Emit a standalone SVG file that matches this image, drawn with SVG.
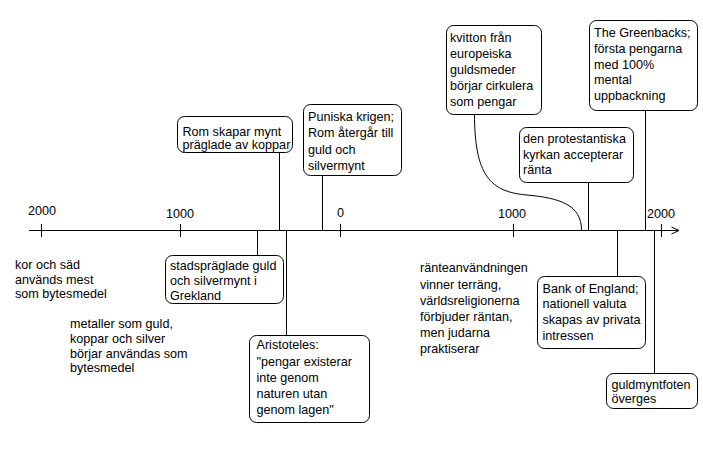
<svg xmlns="http://www.w3.org/2000/svg" width="703" height="457" viewBox="0 0 703 457">
<style>
text{font-family:"Liberation Sans",Arial,sans-serif;font-size:12.6px;fill:#000}
.box{fill:#fff;stroke:#000;stroke-width:1}
.ln{fill:none;stroke:#000;stroke-width:1}
</style>
<rect width="703" height="457" fill="#fff"/>
<g id="axis">
<line class="ln" x1="29" y1="230.5" x2="679" y2="230.5"/>
<polyline class="ln" points="671.5,227 679,230.5 671.5,234"/>
<line class="ln" x1="41.5" y1="224" x2="41.5" y2="237"/>
<line class="ln" x1="180.5" y1="224" x2="180.5" y2="237"/>
<line class="ln" x1="340.5" y1="224" x2="340.5" y2="237"/>
<line class="ln" x1="513.5" y1="224" x2="513.5" y2="237"/>
<line class="ln" x1="661.5" y1="224" x2="661.5" y2="237"/>
<text x="28" y="215">2000</text>
<text x="166" y="217.5">1000</text>
<text x="337" y="217">0</text>
<text x="498" y="217.5">1000</text>
<text x="647" y="217.5">2000</text>
</g>
<g id="connectors">
<line class="ln" x1="279.5" y1="152" x2="279.5" y2="230"/>
<line class="ln" x1="322.5" y1="175" x2="322.5" y2="230"/>
<line class="ln" x1="257.5" y1="231" x2="257.5" y2="255"/>
<line class="ln" x1="286.5" y1="231" x2="286.5" y2="335"/>
<line class="ln" x1="588.5" y1="182" x2="588.5" y2="230"/>
<line class="ln" x1="645.5" y1="110" x2="645.5" y2="230"/>
<line class="ln" x1="617.5" y1="231" x2="617.5" y2="276"/>
<line class="ln" x1="654.5" y1="231" x2="654.5" y2="373"/>
<path class="ln" d="M474.5,114 C474.5,175 490,192 527,195 C560,198 581.5,205 581.5,230"/>
</g>
<g id="n-kor">
<text x="15" y="268.5">kor och säd</text>
<text x="15" y="283.5">används mest</text>
<text x="15" y="298">som bytesmedel</text>
</g>
<g id="n-metaller">
<text x="70" y="328">metaller som guld,</text>
<text x="70" y="343">koppar och silver</text>
<text x="70" y="357.5">börjar användas som</text>
<text x="70" y="372">bytesmedel</text>
</g>
<g id="n-rom">
<rect class="box" x="177.5" y="116.5" width="115" height="36" rx="7"/>
<text x="182.5" y="135.5">Rom skapar mynt</text>
<text x="182.5" y="149">präglade av koppar</text>
</g>
<g id="n-puniska">
<rect class="box" x="303.5" y="104.5" width="98" height="71" rx="7"/>
<text x="308" y="120.5">Puniska krigen;</text>
<text x="308" y="137">Rom återgår till</text>
<text x="308" y="153.5">guld och</text>
<text x="308" y="170">silvermynt</text>
</g>
<g id="n-stads">
<rect class="box" x="165.5" y="255.5" width="118" height="48" rx="7"/>
<text x="170" y="270">stadspräglade guld</text>
<text x="170" y="285">och silvermynt i</text>
<text x="170" y="300">Grekland</text>
</g>
<g id="n-aristoteles">
<rect class="box" x="249.5" y="335.5" width="120" height="87" rx="7"/>
<text x="256.5" y="349">Aristoteles:</text>
<text x="256.5" y="365.5">"pengar existerar</text>
<text x="256.5" y="381.5">inte genom</text>
<text x="256.5" y="397.5">naturen utan</text>
<text x="256.5" y="413.5">genom lagen"</text>
</g>
<g id="n-ranta">
<text x="420" y="272">ränteanvändningen</text>
<text x="420" y="289">vinner terräng,</text>
<text x="420" y="305">världsreligionerna</text>
<text x="420" y="321">förbjuder räntan,</text>
<text x="420" y="337">men judarna</text>
<text x="420" y="353">praktiserar</text>
</g>
<g id="n-kvitton">
<rect class="box" x="446.5" y="25.5" width="95" height="89" rx="7"/>
<text x="450" y="41.5">kvitton från</text>
<text x="450" y="57.5">europeiska</text>
<text x="450" y="74">guldsmeder</text>
<text x="450" y="90">börjar cirkulera</text>
<text x="450" y="105.5">som pengar</text>
</g>
<g id="n-protestant">
<rect class="box" x="519.5" y="127.5" width="114" height="55" rx="7"/>
<text x="523" y="142.5">den protestantiska</text>
<text x="523" y="158.5">kyrkan accepterar</text>
<text x="523" y="173.5">ränta</text>
</g>
<g id="n-greenbacks">
<rect class="box" x="589.5" y="20.5" width="108" height="90" rx="7"/>
<text x="594" y="37">The Greenbacks;</text>
<text x="594" y="53">första pengarna</text>
<text x="594" y="68.5">med 100%</text>
<text x="594" y="84">mental</text>
<text x="594" y="100">uppbackning</text>
</g>
<g id="n-bank">
<rect class="box" x="537.5" y="276.5" width="108" height="72" rx="7"/>
<text x="542.5" y="292.5">Bank of England;</text>
<text x="542.5" y="308">nationell valuta</text>
<text x="542.5" y="324">skapas av privata</text>
<text x="542.5" y="339.5">intressen</text>
</g>
<g id="n-guld">
<rect class="box" x="606.5" y="373.5" width="91" height="35" rx="7"/>
<text x="611.5" y="389">guldmyntfoten</text>
<text x="611.5" y="403">överges</text>
</g>
</svg>
